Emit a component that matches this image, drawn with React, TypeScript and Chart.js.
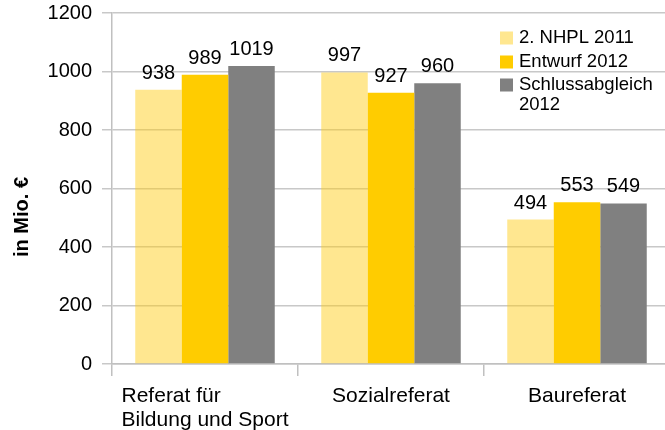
import React, { useEffect, useRef } from "react";
import { Chart, registerables } from "chart.js";

Chart.register(...registerables);

const categories: string[][] = [["Referat für", "Bildung und Sport"], ["Sozialreferat"], ["Baureferat"]];
const seriesNames: string[][] = [["2. NHPL 2011"], ["Entwurf 2012"], ["Schlussabgleich", "2012"]];
const nhpl2011: number[] = [938, 997, 494];
const entwurf2012: number[] = [989, 927, 553];
const schluss2012: number[] = [1019, 960, 549];
const yTicks: number[] = [0, 200, 400, 600, 800, 1000, 1200];
const yAxisTitle = "in Mio. €";

const colors = ["rgba(255,205,20,0.47)", "#FFCC00", "#808080"];
const FONT = "'Liberation Sans', Arial, sans-serif";
const OFFSET_Y = 20;

const overlay = {
  id: "overlay",
  afterDatasetsDraw(chart: any) {
    const ctx = chart.ctx;
    ctx.save();
    // value labels
    ctx.fillStyle = "#000";
    ctx.font = `20px ${FONT}`;
    ctx.textAlign = "center";
    ctx.textBaseline = "alphabetic";
    chart.data.datasets.forEach((ds: any, di: number) => {
      const meta = chart.getDatasetMeta(di);
      meta.data.forEach((bar: any, i: number) => {
        ctx.fillText(String(ds.data[i]), bar.x, bar.y - 11);
      });
    });
    // category labels
    const xs = chart.scales.x;
    ctx.font = `21px ${FONT}`;
    ctx.textAlign = "left";
    categories.forEach((lines, i) => {
      const cx = xs.getPixelForValue(i);
      const w = Math.max(...lines.map((l) => ctx.measureText(l).width));
      lines.forEach((l, li) => {
        ctx.fillText(l, cx - w / 2, xs.top + 38 + li * 24);
      });
    });
    // legend
    const rows = [38, 62, 85];
    ctx.font = `18.5px ${FONT}`;
    ctx.textBaseline = "middle";
    chart.data.datasets.forEach((ds: any, di: number) => {
      const y = rows[di] + OFFSET_Y;
      ctx.fillStyle = colors[di];
      ctx.fillRect(500, y - 6.5, 13, 13);
      ctx.fillStyle = "#000";
      const lab: string[] = seriesNames[di];
      lab.forEach((l, li) => ctx.fillText(l, 519, y + li * 20));
    });
    // y axis title
    ctx.font = `bold 20px ${FONT}`;
    ctx.textAlign = "center";
    ctx.textBaseline = "middle";
    ctx.translate(22, 217 + OFFSET_Y);
    ctx.rotate(-Math.PI / 2);
    ctx.fillText(yAxisTitle, 0, 0);
    ctx.restore();
  },
};

export default function App() {
  const ref = useRef<HTMLCanvasElement>(null);
  useEffect(() => {
    if (!ref.current) return;
    const chart = new Chart(ref.current, {
      type: "bar",
      data: {
        labels: categories.map((c) => c.join(" ")),
        datasets: [
          { label: seriesNames[0].join(" "), data: nhpl2011, backgroundColor: colors[0] },
          { label: seriesNames[1].join(" "), data: entwurf2012, backgroundColor: colors[1] },
          { label: seriesNames[2].join(" "), data: schluss2012, backgroundColor: colors[2] },
        ],
      },
      options: {
        responsive: false,
        animation: false,
        devicePixelRatio: 1,
        layout: { padding: { top: 33, right: 30, bottom: 26, left: 0 } },
        datasets: { bar: { barPercentage: 1, categoryPercentage: 0.75 } } as any,
        plugins: { legend: { display: false }, tooltip: { enabled: false }, title: { display: false } },
        scales: {
          x: {
            offset: true,
            grid: { display: true, drawOnChartArea: false, drawTicks: true, tickLength: 12, color: "#c0c0c0", lineWidth: 1.5, offset: true },
            border: { display: true, color: "#c0c0c0", width: 1.5 },
            ticks: { display: false },
            afterFit: (s: any) => { s.height = 60; },
          },
          y: {
            min: 0,
            max: 1200,
            afterBuildTicks: (s: any) => { s.ticks = yTicks.map((v) => ({ value: v })); },
            grid: { color: "#c8c8c8", lineWidth: 1.5, tickLength: 10, drawTicks: true },
            border: { display: true, color: "#c0c0c0", width: 1.5 },
            ticks: { color: "#000", font: { size: 20, family: FONT }, padding: 10, callback: (v: any) => String(v) },
            afterFit: (s: any) => { s.width = 112; },
          },
        },
      },
      plugins: [overlay],
    });
    return () => chart.destroy();
  }, []);
  return (
    <div style={{ position: "fixed", left: 0, top: 0, width: 665, height: 430, overflow: "hidden", background: "#fff" }}>
      <canvas ref={ref} width={700} height={470} style={{ position: "absolute", left: 0, top: -OFFSET_Y, width: 700, height: 470 }} />
    </div>
  );
}
